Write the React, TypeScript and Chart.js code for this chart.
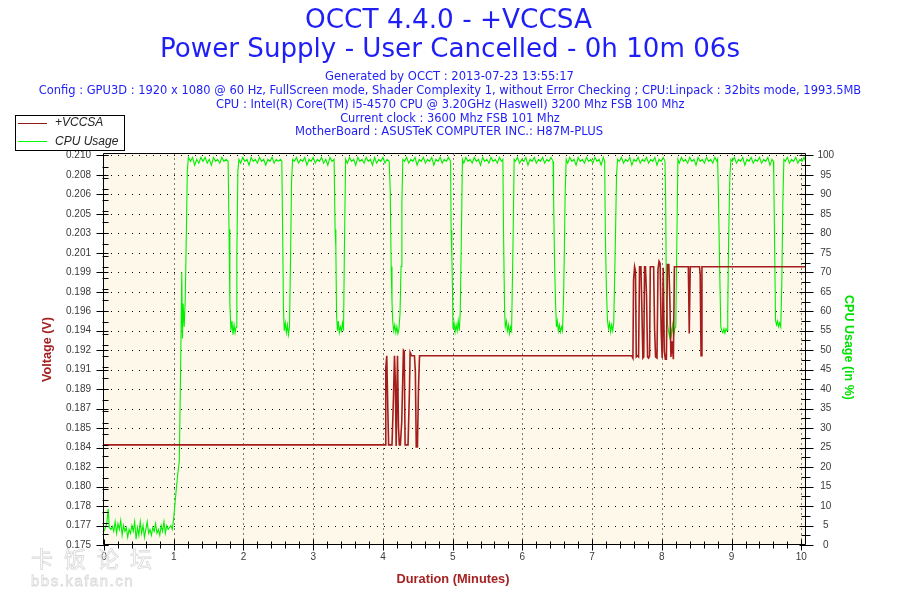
import React, { useEffect, useRef } from 'react';
import { Chart, registerables } from 'chart.js';

Chart.register(...registerables);

// ---------- header texts ----------
const titleLine1 = 'OCCT 4.4.0 - +VCCSA';
const titleLine2 = 'Power Supply - User Cancelled - 0h 10m 06s';
const infoLines = [
  'Generated by OCCT : 2013-07-23 13:55:17',
  'Config : GPU3D : 1920 x 1080 @ 60 Hz, FullScreen mode, Shader Complexity 1, without Error Checking ; CPU:Linpack : 32bits mode, 1993.5MB',
  'CPU : Intel(R) Core(TM) i5-4570 CPU @ 3.20GHz (Haswell) 3200 Mhz FSB 100 Mhz',
  'Current clock : 3600 Mhz FSB 101 Mhz',
  'MotherBoard : ASUSTeK COMPUTER INC.: H87M-PLUS',
];
const seriesNames = ['+VCCSA', 'CPU Usage'];
const axisTitles = { x: 'Duration (Minutes)', left: 'Voltage (V)', right: 'CPU Usage (in %)' };
const watermark = ['卡饭论坛', 'bbs.kafan.cn'];

// ---------- ticks ----------
const minuteTicks = [0, 1, 2, 3, 4, 5, 6, 7, 8, 9, 10];
const cpuTicks = [0, 5, 10, 15, 20, 25, 30, 35, 40, 45, 50, 55, 60, 65, 70, 75, 80, 85, 90, 95, 100];
const voltTickValues = [0.175, 0.17675, 0.1785, 0.18025, 0.182, 0.18375, 0.1855, 0.18725, 0.189, 0.19075, 0.1925,
  0.19425, 0.196, 0.19775, 0.1995, 0.20125, 0.203, 0.20475, 0.2065, 0.20825, 0.21];
const voltTickLabels = ['0.175', '0.177', '0.178', '0.180', '0.182', '0.184', '0.185', '0.187', '0.189', '0.191', '0.192',
  '0.194', '0.196', '0.198', '0.199', '0.201', '0.203', '0.205', '0.206', '0.208', '0.210'];
const X_MAX = 10.06;
const CPU_MAX = 100.5;
const VOLT_MIN = 0.175;
const VOLT_MAX = 0.210175;

// ---------- +VCCSA (minutes, volts) ----------
const voltMinutes = [
  0, 4.031, 4.041, 4.055, 4.07, 4.082, 4.094, 4.11, 4.13, 4.151,
  4.166, 4.178, 4.19, 4.209, 4.223, 4.235, 4.25, 4.27, 4.294, 4.306,
  4.318, 4.33, 4.342, 4.36, 4.38, 4.39, 4.41, 4.438, 4.452, 4.465,
  4.478, 4.495, 4.51, 4.525,
  7.57, 7.585, 7.594, 7.609, 7.622, 7.633, 7.65, 7.666, 7.68, 7.70,
  7.714, 7.728, 7.74, 7.752, 7.765, 7.78, 7.795, 7.81, 7.824, 7.834,
  7.85, 7.866, 7.882, 7.896, 7.91, 7.93, 7.945, 7.96, 7.975, 7.99,
  8.005, 8.02, 8.035, 8.05, 8.065, 8.08, 8.10, 8.115, 8.13, 8.145,
  8.165, 8.18, 8.38, 8.393, 8.407, 8.54, 8.55, 8.562, 8.575, 10.06,
];
const voltValues = [
  0.184, 0.184, 0.1909, 0.192, 0.1872, 0.184, 0.184, 0.184, 0.184, 0.1882,
  0.192, 0.1897, 0.1839, 0.192, 0.1856, 0.184, 0.184, 0.1861, 0.1925, 0.1924,
  0.184, 0.184, 0.184, 0.184, 0.1888, 0.1923, 0.192, 0.192, 0.192, 0.1906,
  0.1838, 0.1838, 0.1891, 0.192,
  0.192, 0.1918, 0.1988, 0.2, 0.1996, 0.1919, 0.192, 0.1919, 0.2, 0.2,
  0.196, 0.1918, 0.1919, 0.2, 0.2, 0.1975, 0.1919, 0.1918, 0.192, 0.2,
  0.2, 0.2, 0.2, 0.1944, 0.1919, 0.1918, 0.1998, 0.2005, 0.2003, 0.1942,
  0.1918, 0.1999, 0.1924, 0.1917, 0.1917, 0.2002, 0.2002, 0.197, 0.1919, 0.1933,
  0.1917, 0.2, 0.2, 0.194, 0.2, 0.2, 0.1993, 0.192, 0.2, 0.2,
];

// ---------- CPU Usage (minutes, %) ----------
const cpuMinutes = [
  // idle
  0, 0.02, 0.04, 0.06, 0.075, 0.10, 0.12, 0.14, 0.16, 0.18,
  0.20, 0.22, 0.24, 0.26, 0.28, 0.30, 0.32, 0.34, 0.36, 0.38,
  0.40, 0.42, 0.44, 0.46, 0.48, 0.50, 0.52, 0.54, 0.56, 0.58,
  0.60, 0.62, 0.64, 0.66, 0.68, 0.70, 0.72, 0.74, 0.76, 0.78,
  0.80, 0.82, 0.84, 0.86, 0.88, 0.90, 0.92, 0.94, 0.96, 0.98,
  // ramp
  1.00, 1.02, 1.04, 1.06, 1.08, 1.10, 1.115, 1.125, 1.135, 1.15, 1.165, 1.18, 1.195, 1.21,
  // plateau 1
  1.24, 1.27, 1.30, 1.33, 1.36, 1.39, 1.42, 1.45, 1.48, 1.51, 1.54, 1.57, 1.60, 1.63, 1.66, 1.69, 1.72, 1.75, 1.78,
  // drop 1
  1.793, 1.805, 1.82, 1.835, 1.85, 1.865, 1.88, 1.895, 1.905, 1.92, 1.935,
  // plateau 2
  1.96, 1.99, 2.02, 2.05, 2.08, 2.11, 2.14, 2.17, 2.20, 2.23, 2.26, 2.29, 2.32, 2.35, 2.38, 2.41, 2.44, 2.47, 2.50, 2.53, 2.55,
  // drop 2
  2.562, 2.573, 2.585, 2.60, 2.615, 2.63, 2.645, 2.66, 2.675, 2.69, 2.705,
  // plateau 3
  2.73, 2.76, 2.79, 2.82, 2.85, 2.88, 2.91, 2.94, 2.97, 3.00, 3.03, 3.06, 3.09, 3.12, 3.15, 3.18, 3.21, 3.24, 3.27, 3.30,
  // drop 3
  3.314, 3.325, 3.335, 3.348, 3.36, 3.375, 3.39, 3.405, 3.42, 3.435, 3.448, 3.465,
  // plateau 4
  3.49, 3.52, 3.55, 3.58, 3.61, 3.64, 3.67, 3.70, 3.73, 3.76, 3.79, 3.82, 3.85, 3.88, 3.91, 3.94, 3.97, 4.00, 4.03, 4.06, 4.09,
  // drop 4
  4.105, 4.118, 4.13, 4.14, 4.155, 4.17, 4.185, 4.20, 4.215, 4.23, 4.245, 4.26, 4.272, 4.285,
  // plateau 5
  4.31, 4.34, 4.37, 4.40, 4.43, 4.46, 4.49, 4.52, 4.55, 4.58, 4.61, 4.64, 4.67, 4.70, 4.73, 4.76, 4.79, 4.82, 4.85, 4.88, 4.91, 4.94, 4.97,
  // drop 5
  4.978, 4.988, 4.997, 5.005, 5.02, 5.035, 5.05, 5.065, 5.08, 5.095, 5.108, 5.125, 5.14,
  // plateau 6
  5.16, 5.19, 5.22, 5.25, 5.28, 5.31, 5.34, 5.37, 5.40, 5.43, 5.46, 5.49, 5.52, 5.55, 5.58, 5.61, 5.64, 5.67, 5.70, 5.72,
  // drop 6
  5.73, 5.745, 5.755, 5.77, 5.785, 5.80, 5.815, 5.83, 5.845, 5.855, 5.868, 5.882,
  // plateau 7
  5.90, 5.93, 5.96, 5.99, 6.02, 6.05, 6.08, 6.11, 6.14, 6.17, 6.20, 6.23, 6.26, 6.29, 6.32, 6.35, 6.38, 6.41, 6.44,
  // drop 7
  6.447, 6.46, 6.475, 6.488, 6.50, 6.515, 6.53, 6.545, 6.56, 6.575, 6.59, 6.60, 6.613, 6.628,
  // plateau 8
  6.65, 6.68, 6.71, 6.74, 6.77, 6.80, 6.83, 6.86, 6.89, 6.92, 6.95, 6.98, 7.01, 7.04, 7.07, 7.10, 7.13, 7.16, 7.18,
  // drop 8
  7.19, 7.205, 7.22, 7.235, 7.25, 7.265, 7.28, 7.295, 7.31, 7.32, 7.335, 7.35, 7.365,
  // plateau 9
  7.39, 7.42, 7.45, 7.48, 7.51, 7.54, 7.57, 7.60, 7.63, 7.66, 7.69, 7.72, 7.75, 7.78, 7.81, 7.84, 7.87, 7.90, 7.93, 7.96, 7.99, 8.02, 8.045,
  // drop 9
  8.055, 8.065, 8.08, 8.095, 8.11, 8.125, 8.14, 8.155, 8.17, 8.185, 8.20, 8.21, 8.23,
  // plateau 10
  8.25, 8.28, 8.31, 8.34, 8.37, 8.40, 8.43, 8.46, 8.49, 8.52, 8.55, 8.58, 8.61, 8.64, 8.67, 8.70, 8.73, 8.76, 8.79, 8.80,
  // drop 10
  8.81, 8.83, 8.845, 8.86, 8.875, 8.89, 8.905, 8.92, 8.935, 8.945, 8.958, 8.975, 8.99,
  // plateau 11
  9.01, 9.04, 9.07, 9.10, 9.13, 9.16, 9.19, 9.22, 9.25, 9.28, 9.31, 9.34, 9.37, 9.40, 9.43, 9.46, 9.49, 9.52, 9.55, 9.58, 9.60,
  // drop 11
  9.605, 9.618, 9.63, 9.645, 9.66, 9.675, 9.69, 9.705, 9.72, 9.735, 9.75,
  // plateau 12
  9.77, 9.80, 9.83, 9.86, 9.89, 9.92, 9.95, 9.98, 10.01, 10.04, 10.06,
];
const cpuPercent = [
  // idle
  3.5, 4.5, 5.5, 9.3, 4.5, 4.0, 4.8, 3.5, 6.0, 3.0,
  5.5, 4.0, 6.3, 2.5, 5.0, 3.5, 4.5, 2.0, 4.0, 3.0,
  5.0, 3.5, 6.0, 1.5, 4.5, 2.5, 6.0, 3.0, 5.0, 2.0,
  4.0, 6.0, 3.0, 4.0, 2.5, 4.5, 3.5, 5.5, 3.0, 4.0,
  2.5, 5.0, 3.5, 6.0, 3.0, 5.0, 4.0, 4.5, 5.0, 4.0,
  // ramp
  7, 11, 15, 18.5, 21.5, 47, 70, 53, 62, 56, 63, 79, 96, 99.5,
  // plateau 1
  98.5, 99.5, 97.5, 99, 98, 99.5, 98.5, 99.5, 98, 99, 97.5, 99.5, 98.5, 99, 98, 99.5, 98.5, 99, 98.5,
  // drop 1
  81, 62, 55, 57.5, 54, 56.5, 54.5, 56, 74, 96, 99,
  // plateau 2
  98, 99.5, 98.5, 99, 97.5, 99.5, 98.5, 99, 98, 99.5, 98.5, 99, 97.5, 99, 98.5, 99.5, 98, 99, 98.5, 99, 98.5,
  // drop 2
  80, 61, 55, 57, 54.5, 56.5, 54, 56, 73.5, 93.5, 99,
  // plateau 3
  98.5, 99.5, 98, 99, 98.5, 99.5, 97.5, 99, 98.5, 99.5, 98, 99, 98.5, 99.5, 98, 99, 97.5, 99.5, 98.5, 99,
  // drop 3
  81, 76.5, 59, 55, 57.5, 54.5, 56, 55, 57, 55, 76.5, 99,
  // plateau 4
  98, 99.5, 98.5, 99, 97.5, 99.5, 98.5, 99, 98, 99.5, 98.5, 99, 97.5, 99.5, 98, 99, 98.5, 99.5, 98, 99, 98.5,
  // drop 4
  91, 71.5, 62.5, 57.5, 55, 56.5, 54.5, 56, 54.3, 55.5, 59.4, 71.5, 88, 99,
  // plateau 5
  98.5, 99.5, 98, 99, 98.5, 99.5, 97.5, 99, 98.5, 99.5, 98, 99, 98.5, 99.5, 97.5, 99, 98.5, 99.5, 98, 99, 98.5, 99.5, 98.5,
  // drop 5
  80.8, 74, 66.3, 55.5, 57, 54.7, 56.5, 55, 57.5, 55, 59.4, 79, 99,
  // plateau 6
  98, 99.5, 98.5, 99, 98, 99.5, 98.5, 99, 97.5, 99.5, 98.5, 99, 98, 99.5, 98.5, 99, 98, 99.5, 98.5, 99,
  // drop 6
  79.5, 60, 56, 57.5, 55, 56.5, 54.3, 56, 55, 66, 80, 99,
  // plateau 7
  98.5, 99.5, 98, 99, 98.5, 99.5, 97.5, 99, 98.5, 99.5, 98, 99, 98.5, 99.5, 98, 99, 98.5, 99.5, 98.5,
  // drop 7
  90, 73.7, 62.6, 56, 57.5, 55, 56.5, 54.7, 56, 55, 63, 73.7, 90, 99,
  // plateau 8
  98, 99.5, 98.5, 99, 97.5, 99.5, 98.5, 99, 98, 99.5, 98.5, 99, 98, 99.5, 98.5, 99, 97.5, 99.5, 98.5,
  // drop 8
  79.5, 65.7, 57.7, 55.5, 57, 54.7, 56.5, 55, 57, 66, 79.5, 95, 99,
  // plateau 9
  98.5, 99.5, 98, 99, 98.5, 99.5, 97.5, 99, 98.5, 99.5, 98, 99, 98.5, 99.5, 98, 99, 98.5, 99.5, 97.5, 99, 98.5, 99.5, 98.5,
  // drop 9
  88.4, 63.4, 57, 55, 53.5, 56, 54, 56.5, 53.8, 55.5, 56, 70.6, 99,
  // plateau 10
  98, 99.5, 98.5, 99, 98, 99.5, 98.5, 99, 97.5, 99.5, 98.5, 99, 98, 99.5, 98.5, 99, 98, 99.5, 98.5, 99,
  // drop 10
  91, 70, 56, 55, 54.5, 55.5, 54.4, 55.5, 55, 59.8, 79, 94.5, 99,
  // plateau 11
  98.5, 99.5, 98, 99, 98.5, 99.5, 97.5, 99, 98.5, 99.5, 98, 99, 98.5, 99.5, 98, 99, 98.5, 99.5, 97.5, 99, 98.5,
  // drop 11
  94.5, 75.7, 57.7, 56.5, 57.5, 56, 57, 56, 67, 88, 99,
  // plateau 12
  98.5, 99.5, 98, 99, 98.5, 99.5, 98, 99, 98.5, 99.5, 98.5,
];

// ---------- styles ----------
const COLORS = {
  plotBg: '#fdf8ea',
  volt: '#a51c1c',
  cpu: '#00f000',
  header: '#1e1ef5',
  redTitle: '#a52222',
  greenTitle: '#00e000',
  tickLabel: '#3a3a3a',
  watermark: '#dadada',
};
const SANS = '"Liberation Sans", Arial, sans-serif';
const HEADER_FONT = '"DejaVu Sans", Verdana, sans-serif';

function fitText(ctx: any, text: string, cx: number, cy: number, width: number, weight: string,
  family: string, color: string, angle = 0) {
  ctx.save();
  ctx.font = `${weight} 100px ${family}`;
  const w = ctx.measureText(text).width;
  const size = (100 * width) / w;
  ctx.font = `${weight} ${size.toFixed(2)}px ${family}`;
  ctx.fillStyle = color;
  ctx.textAlign = 'center';
  ctx.textBaseline = 'middle';
  ctx.translate(cx, cy);
  ctx.rotate(angle);
  ctx.fillText(text, 0, 0);
  ctx.restore();
}

const occtPlugin = {
  id: 'occtDecor',
  beforeDraw(chart: any) {
    const { ctx, chartArea: a, scales } = chart;
    ctx.save();
    ctx.fillStyle = '#ffffff';
    ctx.fillRect(0, 0, chart.width, chart.height);
    ctx.fillStyle = COLORS.plotBg;
    ctx.fillRect(a.left, a.top, a.right - a.left, a.bottom - a.top);
    ctx.strokeStyle = '#000000';
    ctx.lineWidth = 1;
    ctx.setLineDash([1, 6]);
    for (const v of cpuTicks) {
      if (v === 0) continue;
      const y = Math.round(scales.yC.getPixelForValue(v)) + 0.5;
      ctx.beginPath();
      ctx.moveTo(a.left, y);
      ctx.lineTo(a.right, y);
      ctx.stroke();
    }
    ctx.setLineDash([1, 4]);
    for (const m of minuteTicks) {
      if (m === 0) continue;
      const x = Math.round(scales.x.getPixelForValue(m)) + 0.5;
      ctx.beginPath();
      ctx.moveTo(x, a.top);
      ctx.lineTo(x, a.bottom);
      ctx.stroke();
    }
    ctx.restore();
  },
  afterDraw(chart: any) {
    const { ctx, chartArea: a, scales } = chart;
    const L = Math.floor(a.left) - 0.5;
    const R = Math.floor(a.right) + 0.5;
    const T = Math.floor(a.top) + 0.5;
    const B = Math.round(a.bottom) - 0.5;
    ctx.save();
    ctx.strokeStyle = '#000000';
    ctx.lineWidth = 1;
    ctx.setLineDash([]);
    ctx.beginPath();
    ctx.rect(L, T, R - L, B - T);
    ctx.stroke();

    const hline = (x1: number, x2: number, y: number) => {
      ctx.beginPath(); ctx.moveTo(x1, y); ctx.lineTo(x2, y); ctx.stroke();
    };
    const vline = (x: number, y1: number, y2: number) => {
      ctx.beginPath(); ctx.moveTo(x, y1); ctx.lineTo(x, y2); ctx.stroke();
    };
    // left axis: major ticks + 0.001 V minor ticks
    for (const v of voltTickValues) {
      const y = Math.round(scales.yV.getPixelForValue(v)) + 0.5;
      hline(L - 7, L + 5, y);
    }
    for (let i = 0; i <= 35; i++) {
      const y = Math.round(scales.yV.getPixelForValue(VOLT_MIN + i * 0.001)) + 0.5;
      hline(L - 1, L + 5, y);
    }
    // right axis
    for (const v of cpuTicks) {
      const y = Math.round(scales.yC.getPixelForValue(v)) + 0.5;
      hline(R - 6, R + 8, y);
      if (v < 100) {
        const y2 = Math.round(scales.yC.getPixelForValue(v + 2.5)) + 0.5;
        hline(R - 4, R + 5, y2);
      }
    }
    // bottom axis
    for (const m of minuteTicks) {
      const x = Math.round(scales.x.getPixelForValue(m)) + 0.5;
      vline(x, B - 5, B + 6);
      if (m < 10) {
        for (let k = 1; k < 5; k++) {
          const xm = Math.round(scales.x.getPixelForValue(m + k * 0.2)) + 0.5;
          vline(xm, B - 3, B + 4);
        }
      }
    }
    ctx.restore();

    // headers
    fitText(ctx, titleLine1, 448.5, 21, 287, 'normal', HEADER_FONT, COLORS.header);
    fitText(ctx, titleLine2, 450, 50, 580, 'normal', HEADER_FONT, COLORS.header);
    const infoPos = [[449.5, 76.5, 249], [450, 91, 823], [450.3, 105, 469], [450, 119, 220], [449, 132, 308]];
    infoLines.forEach((t, i) => {
      const [cx, cy, w] = infoPos[i];
      fitText(ctx, t, cx, cy, w, 'normal', HEADER_FONT, COLORS.header);
    });

    // axis titles
    fitText(ctx, axisTitles.x, 453, 579, 113, 'bold', SANS, COLORS.redTitle);
    fitText(ctx, axisTitles.left, 48, 349.5, 65, 'bold', SANS, COLORS.redTitle, -Math.PI / 2);
    fitText(ctx, axisTitles.right, 848, 347.5, 105, 'bold', SANS, COLORS.greenTitle, Math.PI / 2);

    // legend
    ctx.save();
    ctx.fillStyle = '#ffffff';
    ctx.strokeStyle = '#000000';
    ctx.lineWidth = 1;
    ctx.fillRect(15.5, 115.5, 109, 35);
    ctx.strokeRect(15.5, 115.5, 109, 35);
    ctx.strokeStyle = '#8e1b1b';
    ctx.beginPath(); ctx.moveTo(18, 123.5); ctx.lineTo(47, 123.5); ctx.stroke();
    ctx.strokeStyle = '#00ff00';
    ctx.beginPath(); ctx.moveTo(18, 141.5); ctx.lineTo(47, 141.5); ctx.stroke();
    ctx.fillStyle = '#222222';
    ctx.font = `italic 12px ${SANS}`;
    ctx.textAlign = 'left';
    ctx.textBaseline = 'middle';
    ctx.fillText(seriesNames[0], 55, 123);
    ctx.fillText(seriesNames[1], 55, 141.5);
    ctx.restore();

    // watermark
    ctx.save();
    ctx.strokeStyle = COLORS.watermark;
    ctx.lineWidth = 0.8;
    ctx.textAlign = 'left';
    ctx.textBaseline = 'middle';
    ctx.font = '22px "Noto Sans CJK SC", sans-serif';
    (ctx as any).letterSpacing = '11px';
    ctx.strokeText(watermark[0], 31, 559);
    ctx.font = `15px ${SANS}`;
    (ctx as any).letterSpacing = '1.5px';
    ctx.strokeText(watermark[1], 31, 582);
    ctx.restore();
  },
};

export default function App() {
  const canvasRef = useRef<HTMLCanvasElement | null>(null);

  useEffect(() => {
    if (!canvasRef.current) return;
    Chart.defaults.font.family = SANS;
    const voltData = voltMinutes.map((m, i) => ({ x: m, y: voltValues[i] }));
    const cpuData = cpuMinutes.map((m, i) => ({ x: m, y: cpuPercent[i] }));
    const tickFont = { size: 10, family: SANS };

    const chart = new Chart(canvasRef.current, {
      type: 'line',
      data: {
        datasets: [
          {
            label: seriesNames[0],
            data: voltData,
            yAxisID: 'yV',
            borderColor: COLORS.volt,
            borderWidth: 1.6,
            pointRadius: 0,
            tension: 0,
            fill: false,
          },
          {
            label: seriesNames[1],
            data: cpuData,
            yAxisID: 'yC',
            borderColor: COLORS.cpu,
            borderWidth: 1.1,
            pointRadius: 0,
            tension: 0,
            fill: false,
          },
        ],
      },
      options: {
        responsive: false,
        animation: false,
        devicePixelRatio: 1,
        parsing: false,
        normalized: true,
        layout: { padding: { top: 153.5, left: 0, right: 0, bottom: 0 } },
        plugins: {
          legend: { display: false },
          title: { display: false },
          tooltip: { enabled: false },
        },
        scales: {
          x: {
            type: 'linear',
            position: 'bottom',
            min: 0,
            max: X_MAX,
            afterBuildTicks: (s: any) => { s.ticks = minuteTicks.map((v) => ({ value: v })); },
            afterFit: (s: any) => { s.height = 55; },
            grid: { display: false, drawTicks: false },
            border: { display: false },
            ticks: {
              autoSkip: false,
              maxRotation: 0,
              padding: 6,
              color: COLORS.tickLabel,
              font: tickFont,
              callback: (v: any) => String(v),
            },
          },
          yV: {
            type: 'linear',
            position: 'left',
            min: VOLT_MIN,
            max: VOLT_MAX,
            afterBuildTicks: (s: any) => { s.ticks = voltTickValues.map((v) => ({ value: v })); },
            afterFit: (s: any) => { s.width = 104; },
            grid: { display: false, drawTicks: false },
            border: { display: false },
            ticks: {
              autoSkip: false,
              padding: 13,
              color: COLORS.tickLabel,
              font: tickFont,
              callback: (_v: any, i: number) => voltTickLabels[i],
            },
          },
          yC: {
            type: 'linear',
            position: 'right',
            min: 0,
            max: CPU_MAX,
            afterBuildTicks: (s: any) => { s.ticks = cpuTicks.map((v) => ({ value: v })); },
            afterFit: (s: any) => { s.width = 94.5; },
            grid: { display: false, drawTicks: false },
            border: { display: false },
            ticks: {
              autoSkip: false,
              padding: 12,
              crossAlign: 'center',
              color: COLORS.tickLabel,
              font: tickFont,
              callback: (v: any) => String(v),
            },
          },
        },
      },
      plugins: [occtPlugin],
    } as any);

    return () => chart.destroy();
  }, []);

  return (
    <div style={{ position: 'absolute', left: 0, top: 0, width: 900, height: 600, background: '#fff' }}>
      <canvas ref={canvasRef} width={900} height={600} style={{ display: 'block', width: 900, height: 600 }} />
    </div>
  );
}
